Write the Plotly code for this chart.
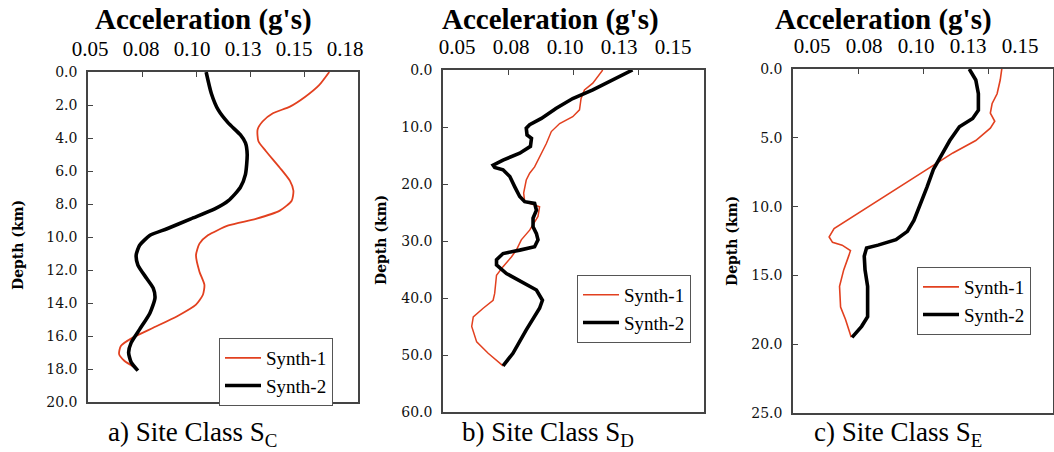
import plotly.graph_objects as go

# ---------------- data ----------------
# Panel a) Site Class S_C
a_red_depth = [0, 0.8, 1.5, 2.1, 2.5, 3.0, 3.5, 4.2, 4.8, 5.8, 6.6, 7.2, 7.8, 8.4, 8.9, 9.3, 9.9, 10.4, 11.1, 12.1, 12.9, 13.5, 14.1, 14.8, 15.5, 16.1, 16.6, 17.1, 17.5, 17.9]
a_red_acc = [0.1617, 0.157, 0.1506, 0.1435, 0.1356, 0.1308, 0.1285, 0.1289, 0.1324, 0.1388, 0.1435, 0.1451, 0.1443, 0.1388, 0.1277, 0.115, 0.1055, 0.1016, 0.1, 0.1016, 0.1039, 0.1032, 0.1, 0.0913, 0.0802, 0.0707, 0.0652, 0.0644, 0.0668, 0.0716]
a_blk_depth = [0, 1.3, 2.3, 3.1, 3.8, 4.3, 5.0, 6.2, 7.0, 7.8, 8.3, 8.9, 9.5, 9.9, 10.5, 11.1, 11.7, 12.5, 13.1, 13.7, 14.6, 15.6, 16.4, 17.0, 17.6, 18.1]
a_blk_acc = [0.1047, 0.1071, 0.1103, 0.115, 0.1205, 0.1229, 0.1237, 0.1229, 0.1205, 0.115, 0.1087, 0.0976, 0.0866, 0.0787, 0.0739, 0.0723, 0.0731, 0.0771, 0.0802, 0.081, 0.0787, 0.0739, 0.07, 0.0688, 0.07, 0.0731]

# Panel b) Site Class S_D
b_red_depth = [0, 2.3, 3.5, 5.0, 7.0, 8.2, 9.4, 10.8, 12.9, 15.2, 17.0, 18.1, 19.3, 21.6, 23.1, 24.0, 25.7, 28.1, 29.8, 31.6, 32.8, 34.5, 36.0, 39.2, 40.4, 41.8, 43.3, 45.0, 47.7, 49.7, 51.9]
b_red_acc = [0.1112, 0.1074, 0.1042, 0.1029, 0.1023, 0.0997, 0.0947, 0.0915, 0.0896, 0.087, 0.0851, 0.0832, 0.0819, 0.0809, 0.0813, 0.087, 0.0864, 0.0832, 0.08, 0.0781, 0.0762, 0.073, 0.0705, 0.0698, 0.0692, 0.0654, 0.0616, 0.061, 0.0629, 0.0673, 0.073]
b_blk_depth = [0, 1.75, 3.5, 5.0, 6.7, 8.5, 9.6, 10.2, 11.4, 12.0, 13.4, 14.6, 15.8, 16.7, 17.1, 17.5, 18.7, 20.5, 22.2, 23.1, 23.4, 24.6, 26.0, 27.5, 28.7, 29.8, 31.0, 31.6, 32.2, 33.3, 34.2, 35.7, 37.4, 38.6, 40.4, 41.8, 45.6, 49.7, 51.9]
b_blk_acc = [0.1226, 0.115, 0.1074, 0.0997, 0.0934, 0.0877, 0.0832, 0.0819, 0.0822, 0.0839, 0.0835, 0.0794, 0.073, 0.0692, 0.0698, 0.073, 0.0756, 0.0775, 0.0794, 0.0813, 0.0851, 0.0858, 0.0845, 0.0845, 0.0858, 0.0864, 0.0851, 0.0794, 0.073, 0.0705, 0.0705, 0.0743, 0.0807, 0.0858, 0.0881, 0.087, 0.0819, 0.0768, 0.073]

# Panel c) Site Class S_E
c_red_depth = [0, 0.8, 1.8, 2.5, 3.2, 3.8, 4.3, 5.2, 6.1, 7.3, 8.7, 10.0, 10.9, 11.6, 12.2, 12.6, 12.8, 13.2, 13.6, 14.6, 15.8, 17.3, 18.2, 19.5]
c_red_acc = [0.1303, 0.1297, 0.1285, 0.1266, 0.1259, 0.1276, 0.1259, 0.1203, 0.1115, 0.1015, 0.0902, 0.0789, 0.0714, 0.0658, 0.0639, 0.0652, 0.0689, 0.0721, 0.0714, 0.0695, 0.0679, 0.0683, 0.0702, 0.0724]
c_blk_depth = [0, 0.8, 1.8, 3.0, 3.6, 4.2, 5.2, 6.4, 7.3, 8.6, 9.8, 11.0, 11.8, 12.4, 12.8, 13.0, 13.6, 14.6, 15.8, 18.0, 18.7, 19.5]
c_blk_acc = [0.1178, 0.1203, 0.1213, 0.1213, 0.1191, 0.114, 0.1103, 0.1065, 0.104, 0.1015, 0.099, 0.0965, 0.094, 0.0896, 0.0827, 0.0783, 0.0774, 0.0777, 0.0787, 0.0787, 0.0764, 0.0727]

# axis ticks
a_x_ticks = [0.05, 0.075, 0.1, 0.125, 0.15, 0.175]
a_x_labels = ["0.05", "0.08", "0.10", "0.13", "0.15", "0.18"]
bc_x_ticks = [0.05, 0.075, 0.1, 0.125, 0.15]
bc_x_labels = ["0.05", "0.08", "0.10", "0.13", "0.15"]
a_y_ticks = [0, 2, 4, 6, 8, 10, 12, 14, 16, 18, 20]
b_y_ticks = [0, 10, 20, 30, 40, 50, 60]
c_y_ticks = [0, 5, 10, 15, 20, 25]

series_names = ["Synth-1", "Synth-2"]
captions = ["a) Site Class S<sub>C</sub>", "b) Site Class S<sub>D</sub>", "c) Site Class S<sub>E</sub>"]
x_title = "Acceleration (g's)"
y_title = "Depth (km)"

# ---------------- layout helpers ----------------
W, H = 1054, 452
RED = "#e2401f"
BLACK = "#000000"
FRAME = "#444444"
SERIF = "Liberation Serif"
YFONT = "DejaVu Serif"


def px_x(p):
    return p / W


def px_y(p):
    return 1 - p / H


panels = [
    dict(box=(88, 358, 72, 402), lab=(90, 345), xr=[0.05, 0.175], xt=a_x_ticks, xl=a_x_labels, yr=[20, 0], yt=a_y_ticks,
         leg=(219, 338), title_x=203, ytitle=(18, 245), cap_x=192, rw=1.8,
         red=(a_red_acc, a_red_depth), blk=(a_blk_acc, a_blk_depth), shape="spline"),
    dict(box=(443, 704, 70, 412), lab=(457, 673), xr=[0.05, 0.15], xt=bc_x_ticks, xl=bc_x_labels, yr=[60, 0], yt=b_y_ticks,
         leg=(577, 275), title_x=550, ytitle=(381, 240), cap_x=548, rw=1.5,
         red=(b_red_acc, b_red_depth), blk=(b_blk_acc, b_blk_depth), shape="linear"),
    dict(box=(793, 1053, 69, 413), lab=(812, 1020), xr=[0.05, 0.15], xt=bc_x_ticks, xl=bc_x_labels, yr=[25, 0], yt=c_y_ticks,
         leg=(917, 267), title_x=883, ytitle=(732, 241), cap_x=898, rw=1.6,
         red=(c_red_acc, c_red_depth), blk=(c_blk_acc, c_blk_depth), shape="linear"),
]

fig = go.Figure()
annotations = []
layout = dict(
    template="none",
    width=W, height=H,
    margin=dict(l=0, r=0, t=0, b=0, pad=0),
    paper_bgcolor="white", plot_bgcolor="rgba(0,0,0,0)",
    showlegend=True,
    font=dict(family=SERIF, color="#000"),
)

for i, p in enumerate(panels, start=1):
    sfx = "" if i == 1 else str(i)
    legname = "legend" if i == 1 else f"legend{i}"
    xa = f"x{sfx}"
    ya = f"y{sfx}"
    lab_id = i + 3  # label-row axis for this panel
    fig.add_trace(go.Scatter(x=p["red"][0], y=p["red"][1], mode="lines", name=series_names[0],
                             line=dict(color=RED, width=p["rw"], shape=p["shape"], smoothing=0.6),
                             xaxis=xa, yaxis=ya, legend=legname))
    fig.add_trace(go.Scatter(x=p["blk"][0], y=p["blk"][1], mode="lines", name=series_names[1],
                             line=dict(color=BLACK, width=3.6, shape=p["shape"], smoothing=0.6),
                             xaxis=xa, yaxis=ya, legend=legname))
    # empty trace so the label-row axis gets drawn
    fig.add_trace(go.Scatter(x=[], y=[], mode="lines", showlegend=False, hoverinfo="skip",
                             xaxis=f"x{lab_id}", yaxis=ya))
    x0, x1, y0, y1 = p["box"]
    common_x = dict(range=p["xr"], side="top", anchor=ya, tickmode="array", tickvals=p["xt"],
                    showgrid=False, zeroline=False, automargin=False)
    layout[f"xaxis{sfx}"] = dict(
        domain=[px_x(x0), px_x(x1)], **common_x,
        showticklabels=False,
        ticks="inside", ticklen=5, tickwidth=1, tickcolor=FRAME,
        showline=True, mirror=True, linecolor=FRAME, linewidth=1.5,
    )
    lx0, lx1 = p["lab"]
    layout[f"xaxis{lab_id}"] = dict(
        domain=[px_x(lx0), px_x(lx1)], **common_x,
        ticktext=p["xl"], ticks="", showline=False, showticklabels=True,
        tickfont=dict(family=SERIF, size=21, color="#000"),
        ticklabelstandoff=11,
    )
    layout[f"yaxis{sfx}"] = dict(
        domain=[px_y(y1), px_y(y0)], range=p["yr"], anchor=xa,
        tickmode="array", tickvals=p["yt"], tickformat=".1f",
        ticks="inside", ticklen=5, tickwidth=1, tickcolor=FRAME,
        showline=True, mirror=True, linecolor=FRAME, linewidth=1.5,
        showgrid=False, zeroline=False, automargin=False,
        tickfont=dict(family=YFONT, size=14, color="#111"),
        ticklabelstandoff=6,
    )
    lx, ly = p["leg"]
    layout[legname] = dict(
        x=px_x(lx), y=px_y(ly), xanchor="left", yanchor="top",
        bgcolor="white", bordercolor="#555555", borderwidth=1,
        font=dict(family=SERIF, size=19, color="#000"),
        itemwidth=36, tracegroupgap=0,
    )
    annotations.append(dict(text=f"<b>{x_title}</b>", x=px_x(p["title_x"]), y=px_y(19), xref="paper", yref="paper",
                            showarrow=False, xanchor="center", yanchor="middle",
                            font=dict(family=SERIF, size=29, color="#000")))
    tx, ty = p["ytitle"]
    annotations.append(dict(text=f"<b>{y_title}</b>", x=px_x(tx), y=px_y(ty), xref="paper", yref="paper",
                            showarrow=False, xanchor="center", yanchor="middle", textangle=-90,
                            font=dict(family=YFONT, size=14, color="#000")))
    annotations.append(dict(text=captions[i - 1], x=px_x(p["cap_x"]), y=px_y(452), xref="paper", yref="paper",
                            showarrow=False, xanchor="center", yanchor="bottom", borderpad=0,
                            font=dict(family=SERIF, size=27, color="#000")))

layout["annotations"] = annotations
fig.update_layout(**layout)
fig.write_html("out.html")
